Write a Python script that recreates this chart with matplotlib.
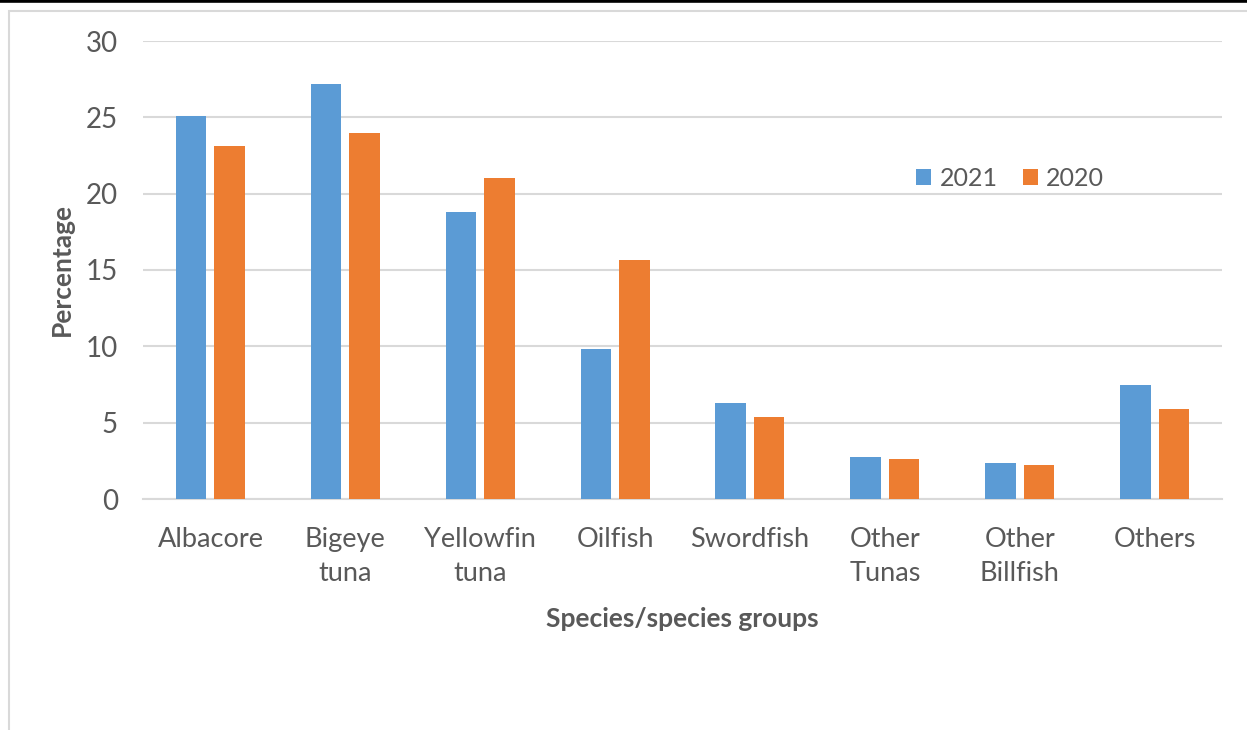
import matplotlib
matplotlib.use("Agg")
import matplotlib.pyplot as plt
from matplotlib.patches import Rectangle
from matplotlib.lines import Line2D
import numpy as np

categories = ["Albacore", "Bigeye\ntuna", "Yellowfin\ntuna", "Oilfish", "Swordfish",
              "Other\nTunas", "Other\nBillfish", "Others"]
series_names = ["2021", "2020"]
values_2021 = [25.1, 27.2, 18.8, 9.8, 6.3, 2.75, 2.35, 7.5]
values_2020 = [23.1, 24.0, 21.0, 15.65, 5.4, 2.6, 2.25, 5.9]
yticks = [0, 5, 10, 15, 20, 25, 30]

blue = "#5B9BD5"
orange = "#ED7D31"
grid_c = "#D9D9D9"
text_c = "#595959"
font = "Lato"

W, H = 1247, 730
fig = plt.figure(figsize=(W / 100, H / 100), dpi=100)
fig.patch.set_facecolor("white")

# outer decorations: black line at top, gray chart border
fig.add_artist(Line2D([0, 1], [1 - 1.2 / H, 1 - 1.2 / H], color="black", lw=2.6,
                      transform=fig.transFigure))
fig.add_artist(Rectangle((8.5 / W, -0.1), 1.2, 1.1 - 10.5 / H, fill=False,
                         edgecolor=grid_c, lw=1.5, transform=fig.transFigure))

ax = fig.add_axes([143 / W, 1 - 499 / H, (1222 - 143) / W, (499 - 41) / H])
x = np.arange(len(categories))
bw = 0.226
off = 0.143
ax.bar(x - off, values_2021, bw, color=blue, label=series_names[0], zorder=3)
ax.bar(x + off, values_2020, bw, color=orange, label=series_names[1], zorder=3)

ax.set_xlim(-0.5, len(categories) - 0.5)
ax.set_ylim(0, 30)
ax.set_yticks(yticks)
ax.yaxis.grid(True, color=grid_c, lw=1.5, zorder=0)
ax.set_axisbelow(True)
for s in ["top", "right", "left"]:
    ax.spines[s].set_visible(False)
ax.spines["bottom"].set_color(grid_c)
ax.spines["bottom"].set_linewidth(1.5)
ax.tick_params(axis="both", length=0, colors=text_c)
ax.tick_params(axis="y", pad=18, labelsize=20)
ax.tick_params(axis="x", pad=20, labelsize=19.5)
ax.set_xticks(x)
ax.set_xticklabels(categories, fontfamily=font, linespacing=1.45, va="top")
for lab in ax.get_yticklabels():
    lab.set_fontfamily(font)

ax.set_xlabel("Species/species groups", fontfamily=font, fontsize=19, fontweight="bold",
              color=text_c, labelpad=15)
fig.text(62 / W, 1 - 270 / H, "Percentage", rotation=90, ha="center", va="center",
         fontfamily=font, fontsize=19, fontweight="bold", color=text_c)

leg = ax.legend(loc="center", bbox_to_anchor=((1010 - 143) / (1222 - 143), (499 - 178) / (499 - 41)),
                ncol=2, frameon=False, handlelength=0.6, handleheight=0.6,
                handletextpad=0.35, columnspacing=1.0,
                prop={"family": font, "size": 18})
for t in leg.get_texts():
    t.set_color(text_c)

fig.savefig("out.png", dpi=100, facecolor="white")
